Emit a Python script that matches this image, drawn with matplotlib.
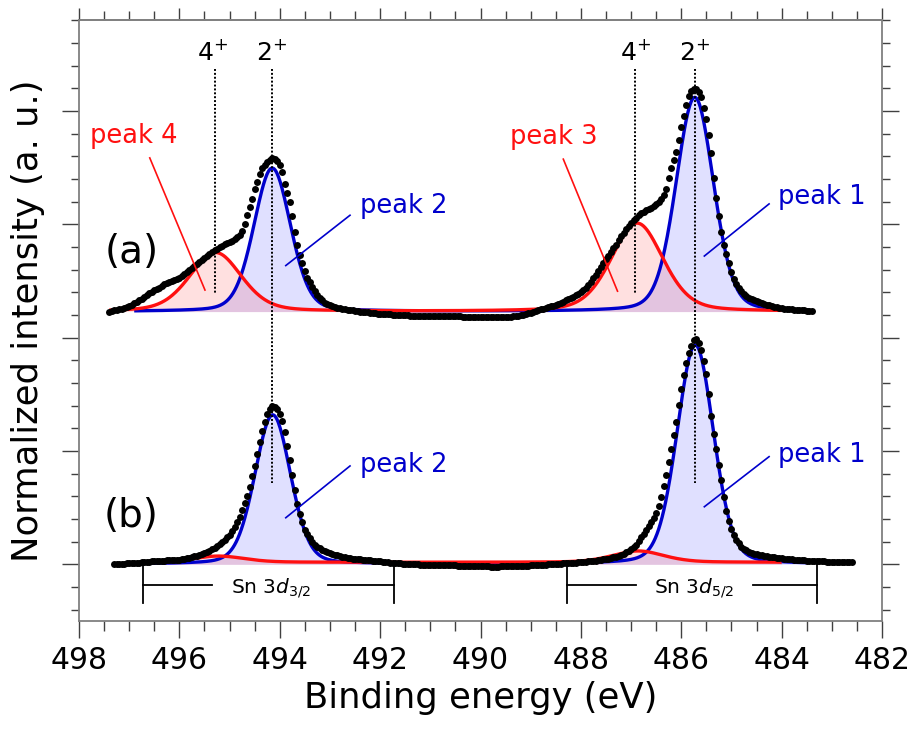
import numpy as np
import matplotlib
matplotlib.use("Agg")
import matplotlib.pyplot as plt
from matplotlib.ticker import MultipleLocator, NullFormatter

plt.rcParams["font.family"] = ["DejaVu Sans"]
plt.rcParams["mathtext.fontset"] = "dejavusans"

# ---------------- measured Sn 3d spectra (normalized, above own baseline) ----
STEP = 0.05
# (a): 497.40 -> 483.40 eV
E0_A = 497.40
spec_a = [
    0.000, 0.005, 0.010, 0.015, 0.020, 0.025, 0.030, 0.040, 0.050, 0.062,
    0.075, 0.088, 0.100, 0.115, 0.130, 0.145, 0.160, 0.175, 0.190, 0.200,
    0.210, 0.225, 0.240, 0.250, 0.260, 0.270, 0.280, 0.290, 0.300, 0.315,
    0.330, 0.350, 0.370, 0.385, 0.400, 0.420, 0.440, 0.455, 0.470, 0.488,
    0.505, 0.522, 0.540, 0.555, 0.570, 0.583, 0.595, 0.605, 0.615, 0.627,
    0.640, 0.655, 0.680, 0.715, 0.770, 0.850, 0.925, 0.995, 1.080, 1.145,
    1.215, 1.270, 1.295, 1.320, 1.340, 1.353, 1.345, 1.325, 1.290, 1.235,
    1.130, 1.045, 0.970, 0.840, 0.700, 0.585, 0.500, 0.425, 0.360, 0.300,
    0.260, 0.215, 0.180, 0.145, 0.120, 0.098, 0.080, 0.066, 0.055, 0.047,
    0.040, 0.035, 0.030, 0.026, 0.022, 0.018, 0.015, 0.011, 0.008, 0.004,
    0.000, -0.003, -0.005, -0.008, -0.010, -0.012, -0.015, -0.018, -0.020, -0.021,
    -0.022, -0.024, -0.025, -0.027, -0.028, -0.029, -0.030, -0.031, -0.032, -0.034,
    -0.035, -0.035, -0.035, -0.035, -0.036, -0.037, -0.038, -0.039, -0.040, -0.040,
    -0.040, -0.040, -0.040, -0.040, -0.041, -0.042, -0.042, -0.042, -0.042, -0.042,
    -0.043, -0.044, -0.045, -0.045, -0.046, -0.047, -0.048, -0.049, -0.050, -0.050,
    -0.051, -0.051, -0.052, -0.052, -0.052, -0.052, -0.050, -0.049, -0.048, -0.047,
    -0.045, -0.043, -0.040, -0.037, -0.033, -0.028, -0.022, -0.016, -0.010, -0.003,
    0.005, 0.012, 0.020, 0.027, 0.033, 0.040, 0.046, 0.053, 0.060, 0.069,
    0.078, 0.088, 0.098, 0.109, 0.120, 0.132, 0.145, 0.157, 0.170, 0.188,
    0.210, 0.236, 0.265, 0.295, 0.325, 0.357, 0.390, 0.425, 0.460, 0.493,
    0.525, 0.557, 0.590, 0.628, 0.665, 0.695, 0.725, 0.755, 0.785, 0.808,
    0.830, 0.850, 0.870, 0.883, 0.895, 0.905, 0.915, 0.928, 0.945, 0.965,
    0.995, 1.030, 1.080, 1.175, 1.265, 1.340, 1.410, 1.510, 1.630, 1.730,
    1.820, 1.900, 1.945, 1.965, 1.965, 1.940, 1.890, 1.800, 1.700, 1.560,
    1.400, 1.180, 1.000, 0.840, 0.700, 0.590, 0.510, 0.425, 0.345, 0.285,
    0.240, 0.205, 0.180, 0.158, 0.140, 0.124, 0.110, 0.099, 0.090, 0.082,
    0.075, 0.067, 0.060, 0.054, 0.048, 0.043, 0.038, 0.034, 0.030, 0.027,
    0.025, 0.022, 0.020, 0.017, 0.015, 0.013, 0.012, 0.010, 0.009, 0.008,
    0.006,
]
# (b): 497.30 -> 482.60 eV
E0_B = 497.30
spec_b = [
    0.000, 0.002, 0.003, 0.005, 0.006, 0.008, 0.010, 0.012, 0.013, 0.015,
    0.016, 0.018, 0.020, 0.022, 0.023, 0.025, 0.026, 0.028, 0.029, 0.031,
    0.032, 0.034, 0.035, 0.036, 0.037, 0.039, 0.042, 0.046, 0.050, 0.055,
    0.060, 0.065, 0.070, 0.077, 0.085, 0.092, 0.100, 0.110, 0.120, 0.132,
    0.145, 0.160, 0.175, 0.193, 0.215, 0.237, 0.260, 0.293, 0.330, 0.372,
    0.420, 0.475, 0.540, 0.605, 0.685, 0.775, 0.870, 0.975, 1.080, 1.175,
    1.260, 1.325, 1.370, 1.395, 1.390, 1.370, 1.330, 1.265, 1.170, 1.045,
    0.920, 0.785, 0.655, 0.530, 0.440, 0.370, 0.305, 0.265, 0.230, 0.198,
    0.172, 0.153, 0.140, 0.127, 0.116, 0.107, 0.100, 0.092, 0.085, 0.078,
    0.072, 0.067, 0.063, 0.059, 0.055, 0.051, 0.048, 0.045, 0.043, 0.041,
    0.039, 0.036, 0.034, 0.032, 0.030, 0.027, 0.025, 0.022, 0.020, 0.018,
    0.016, 0.014, 0.012, 0.010, 0.009, 0.007, 0.005, 0.003, 0.002, 0.001,
    0.000, -0.001, -0.002, -0.003, -0.004, -0.005, -0.005, -0.006, -0.006, -0.007,
    -0.007, -0.008, -0.008, -0.009, -0.009, -0.010, -0.010, -0.011, -0.011, -0.012,
    -0.012, -0.013, -0.013, -0.014, -0.014, -0.015, -0.015, -0.017, -0.018, -0.019,
    -0.020, -0.020, -0.020, -0.020, -0.019, -0.019, -0.018, -0.017, -0.016, -0.016,
    -0.015, -0.014, -0.013, -0.013, -0.012, -0.011, -0.010, -0.009, -0.008, -0.007,
    -0.005, -0.004, -0.002, -0.001, 0.000, 0.002, 0.003, 0.005, 0.006, 0.008,
    0.009, 0.011, 0.012, 0.014, 0.016, 0.018, 0.020, 0.022, 0.024, 0.026,
    0.028, 0.030, 0.033, 0.036, 0.040, 0.043, 0.047, 0.051, 0.056, 0.061,
    0.066, 0.072, 0.080, 0.092, 0.105, 0.120, 0.135, 0.152, 0.170, 0.205,
    0.240, 0.270, 0.300, 0.335, 0.370, 0.410, 0.450, 0.515, 0.590, 0.690,
    0.790, 0.905, 1.020, 1.140, 1.260, 1.410, 1.550, 1.670, 1.780, 1.865,
    1.930, 1.975, 1.990, 1.950, 1.890, 1.790, 1.680, 1.500, 1.310, 1.150,
    1.020, 0.880, 0.740, 0.590, 0.470, 0.380, 0.310, 0.255, 0.215, 0.185,
    0.155, 0.138, 0.125, 0.111, 0.100, 0.094, 0.088, 0.083, 0.079, 0.074,
    0.070, 0.068, 0.065, 0.061, 0.058, 0.055, 0.052, 0.049, 0.047, 0.045,
    0.043, 0.041, 0.039, 0.037, 0.036, 0.034, 0.033, 0.032, 0.031, 0.030,
    0.029, 0.027, 0.026, 0.025, 0.024, 0.023, 0.022, 0.021, 0.021, 0.020,
    0.020, 0.019, 0.019, 0.018, 0.018,
]

# vertical offsets of the two spectra
offset_a = 2.23
offset_b = 0.0

# ---------------- fitted components: center (eV), height, FWHM (eV) ----------
# Sn2+ (blue) and Sn4+ (red) pseudo-Voigt peaks
blue_a = [(485.73, 1.890, 0.88), (494.15, 1.265, 0.86)]   # peak 1, peak 2
red_a = [(486.88, 0.780, 1.22), (495.28, 0.520, 1.22)]    # peak 3, peak 4
blue_b = [(485.72, 1.935, 0.86), (494.14, 1.318, 0.84)]
red_b = [(486.86, 0.100, 1.20), (495.22, 0.055, 1.20)]
red_b_background = 0.018
eta_blue, eta_red = 0.2, 0.3


def pseudo_voigt(e, peaks, eta):
    out = np.zeros_like(e)
    for c, h, w in peaks:
        x = (e - c) / (w / 2.0)
        out += h * ((1 - eta) * np.exp(-np.log(2) * x ** 2) + eta / (1 + x ** 2))
    return out


BLUE = "#0000cc"
RED = "#ff1010"
BLUE_FILL = (0.0, 0.0, 1.0, 0.12)
RED_FILL = (1.0, 0.0, 0.0, 0.12)

fig = plt.figure(figsize=(9.14, 7.31), dpi=100)
ax = fig.add_axes([79 / 914, 1 - 621 / 731, (882 - 79) / 914, (621 - 20.3) / 731])


def draw_fit(blue_peaks, red_peaks, base, blue_rng, red_rng, red_bg=0.0):
    eb = np.linspace(blue_rng[0], blue_rng[1], 800)
    yb = pseudo_voigt(eb, blue_peaks, eta_blue)
    er = np.linspace(red_rng[0], red_rng[1], 800)
    yr = pseudo_voigt(er, red_peaks, eta_red) + red_bg
    ax.fill_between(eb, base, base + yb, color=BLUE_FILL, lw=0, zorder=1)
    ax.fill_between(er, base, base + yr, color=RED_FILL, lw=0, zorder=1)
    ax.plot(eb, base + yb, color=BLUE, lw=2.4, zorder=2, solid_capstyle="butt")
    ax.plot(er, base + yr, color=RED, lw=2.4, zorder=3, solid_capstyle="butt")


draw_fit(blue_a, red_a, offset_a, (496.9, 483.45), (497.4, 484.0))
draw_fit(blue_b, red_b, offset_b, (497.2, 483.5), (496.3, 484.0), red_b_background)

e_a = E0_A - STEP * np.arange(len(spec_a))
e_b = E0_B - STEP * np.arange(len(spec_b))
ax.plot(e_a, offset_a + np.array(spec_a), "o", color="black", ms=5.0, mew=0, zorder=4)
ax.plot(e_b, offset_b + np.array(spec_b), "o", color="black", ms=5.0, mew=0, zorder=4)

# ---------------- chemical-state markers ----------------
dot_style = dict(color="black", lw=1.4, linestyle=(0, (1, 1)), zorder=5)
ax.plot([495.30, 495.30], [4.37, 2.39], **dot_style)
ax.plot([486.92, 486.92], [4.37, 2.39], **dot_style)
ax.plot([494.15, 494.15], [4.37, 0.717], **dot_style)
ax.plot([485.73, 485.73], [4.37, 0.717], **dot_style)
for x, s in [(495.33, "4$^{+}$"), (494.17, "2$^{+}$"),
             (486.92, "4$^{+}$"), (485.73, "2$^{+}$")]:
    ax.text(x, 4.451, s, ha="center", va="baseline", fontsize=18)

# ---------------- peak labels with leader lines ----------------
labels = [
    ("peak 4", RED, 497.79, 3.716, (496.59, 3.586), (495.49, 2.42)),
    ("peak 2", BLUE, 492.40, 3.098, (492.60, 3.08), (493.88, 2.636)),
    ("peak 3", RED, 489.41, 3.710, (488.35, 3.575), (487.27, 2.41)),
    ("peak 1", BLUE, 484.07, 3.180, (484.25, 3.18), (485.54, 2.72)),
    ("peak 2", BLUE, 492.40, 0.817, (492.60, 0.868), (493.88, 0.411)),
    ("peak 1", BLUE, 484.07, 0.900, (484.25, 0.95), (485.54, 0.508)),
]
for txt, col, tx, ty, p0, p1 in labels:
    ax.text(tx, ty, txt, color=col, fontsize=18.5, ha="left", va="baseline")
    ax.plot([p0[0], p1[0]], [p0[1], p1[1]], color=col, lw=1.2, zorder=6)

ax.text(497.48, 2.657, "(a)", fontsize=28, ha="left", va="baseline")
ax.text(497.50, 0.332, "(b)", fontsize=28, ha="left", va="baseline")

# ---------------- spin-orbit range brackets ----------------
brackets = [
    (496.72, 491.72, 495.35, 493.03, 494.18, "Sn 3$d_{3/2}$"),
    (488.28, 483.30, 486.91, 484.58, 485.75, "Sn 3$d_{5/2}$"),
]
for x0, x1, g0, g1, xc, s in brackets:
    kw = dict(color="black", lw=1.3, zorder=5)
    ax.plot([x0, x0], [0.0, -0.344], **kw)
    ax.plot([x1, x1], [0.0, -0.344], **kw)
    ax.plot([x0, g0], [-0.183, -0.183], **kw)
    ax.plot([g1, x1], [-0.183, -0.183], **kw)
    ax.text(xc, -0.256, s, ha="center", va="baseline", fontsize=14.5)

# ---------------- axes ----------------
ax.set_xlim(498, 482)
ax.set_ylim(-0.5, 4.8)
ax.xaxis.set_major_locator(MultipleLocator(2))
ax.xaxis.set_minor_locator(MultipleLocator(0.5))
ax.yaxis.set_major_locator(MultipleLocator(1))
ax.yaxis.set_minor_locator(MultipleLocator(0.2))
ax.yaxis.set_major_formatter(NullFormatter())

for sp in ax.spines.values():
    sp.set_color("#808080")
    sp.set_linewidth(1.3)

ax.tick_params(axis="x", which="major", direction="out", length=12.2, width=1.0,
               color="#404040", labelsize=21.5, pad=6, top=False)
ax.tick_params(axis="x", which="minor", direction="out", length=7, width=1.0,
               color="#404040", top=False)
ax.tick_params(axis="y", which="major", direction="out", length=12.5, width=1.0,
               color="#404040", left=True, right=True, labelleft=False)
ax.tick_params(axis="y", which="minor", direction="out", length=6, width=1.0,
               color="#404040", left=True, right=True)

top = ax.secondary_xaxis("top")
top.xaxis.set_major_locator(MultipleLocator(2))
top.xaxis.set_minor_locator(MultipleLocator(0.5))
top.tick_params(which="major", direction="out", length=8.6, width=1.0,
                color="#404040", labeltop=False)
top.tick_params(which="minor", direction="out", length=6.5, width=1.0,
                color="#404040")
top.spines["top"].set_color("#808080")
top.spines["top"].set_linewidth(1.3)

ax.set_xlabel("Binding energy (eV)", fontsize=25.5, labelpad=4)
ax.set_ylabel("Normalized intensity (a. u.)", fontsize=25.5, labelpad=12)

fig.savefig("out.png", dpi=100)
